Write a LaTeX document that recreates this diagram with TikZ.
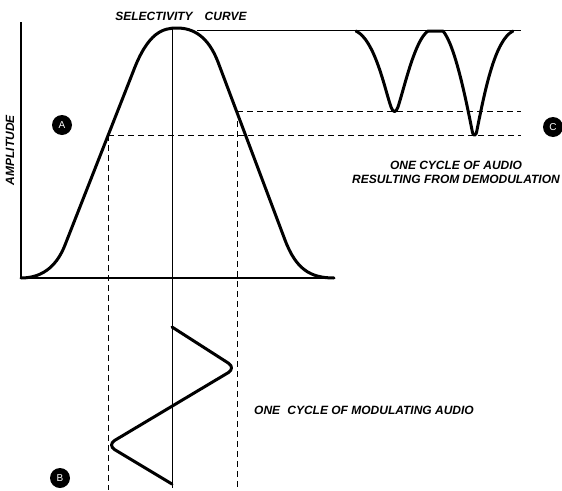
\documentclass[tikz,border=0pt]{standalone}
\usepackage{fontspec}
\setsansfont{Liberation Sans}
\usepackage{tikz}
\usetikzlibrary{positioning,calc}

\begin{document}
\begin{tikzpicture}[x=1pt,y=-1pt,font=\sffamily\bfseries\itshape\fontsize{12}{14}\selectfont,
  axis/.style={line width=1.2pt},
  guide/.style={line width=.9pt},
  dashguide/.style={line width=.9pt,dash pattern=on 6pt off 4pt},
  trace/.style={line width=3pt,line cap=round,line join=round},
  tag/.style={circle,fill=black,text=white,inner sep=0pt,minimum size=20pt,font=\sffamily\fontsize{10}{10}\selectfont}]
\useasboundingbox (0,0) rectangle (562,490);
% axes of the selectivity plot
\coordinate (top) at (21,22);
\coordinate (org) at (21,278);
\coordinate (xend) at (335,278);
\draw[axis] (top) -- (org) -- (xend);
% carrier centre line
\coordinate (peak) at (172,28);
\coordinate (cbot) at (172,488);
\draw[guide] (peak) -- (cbot);
% swing limits
\coordinate (lo) at (108,135);
\coordinate (hi) at (237,111);
\draw[dashguide] (lo) -- (108,490);
\draw[dashguide] (hi) -- (237,490);
\draw[dashguide] (lo) -- (521,135);
\draw[dashguide] (hi) -- (521,111);
\draw[guide] (197,30) -- (521,30);
% selectivity curve
\draw[trace] (org) .. controls (45,278) and (58,263) .. (65,245) -- (133,72)
  .. controls (148,32) and (163,28) .. (177,28)
  .. controls (193,28) and (208,36) .. (218,62) -- (285,240)
  .. controls (296,269) and (310,278) .. (334,278);
% demodulated audio
\draw[trace] (356,31) .. controls (375,40) and (385,90) .. (391,107)
  .. controls (393,113) and (396,113) .. (398,107)
  .. controls (405,85) and (415,40) .. (428,31) -- (443,31)
  .. controls (455,45) and (466,100) .. (472,130)
  .. controls (473,137) and (476,137) .. (477,130)
  .. controls (485,90) and (495,40) .. (513,31);
% modulating audio
\draw[trace,rounded corners=9pt] (172,327) -- (236,368) -- (107,445) -- (172,484);
% labels
\node (title) at (181,16) {SELECTIVITY\hspace{1em}CURVE};
\node[rotate=90] (amp) at (10,150) {AMPLITUDE};
\node[align=center] (demod) at (456,172) {ONE CYCLE OF AUDIO\\RESULTING FROM DEMODULATION};
\node (modu) at (364,410) {ONE\hspace{.6em}CYCLE OF MODULATING AUDIO};
\node[tag] (tagA) at (62,125) {A};
\node[tag] (tagB) at (60,478) {B};
\node[tag] (tagC) at (553,127) {C};
\end{tikzpicture}
\end{document}
